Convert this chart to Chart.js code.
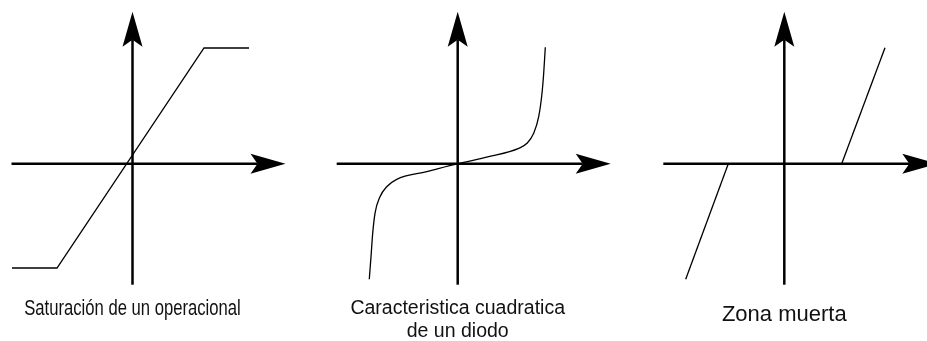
<!DOCTYPE html>
<html>
<head>
<meta charset="utf-8">
<script src="https://cdn.jsdelivr.net/npm/chart.js@4.4.1/dist/chart.umd.min.js"></script>
<style>
  html, body { margin: 0; padding: 0; background: #fff; }
  #wrap { position: relative; width: 927px; height: 341px; overflow: hidden; }
  .panel { position: absolute; top: 0; width: 309px; height: 341px; }
</style>
</head>
<body>
<div id="wrap">
  <div class="panel" style="left:0px"><canvas id="c1"></canvas></div>
  <div class="panel" style="left:309px"><canvas id="c2"></canvas></div>
  <div class="panel" style="left:618px"><canvas id="c3"></canvas></div>
</div>
<script>
// Axis extents (same for the three sketches), origin at 0
const axisX = [-121, 153];
const axisY = [-121, 152];

// Saturación de un operacional
const satX = [-120.5, -75.5, 71.5, 116.5];
const satY = [-104.3, -104.3, 115.7, 115.7];

// Característica del diodo
const diodeX = [-88.4, -86.7, -85.0, -82.7, -77.7, -71.0, -61.0, -31.0, 0, 31.0, 61.0, 69.3, 76.0, 81.0, 84.3, 86.0, 87.6];
const diodeY = [-115.6, -93.0, -69.6, -49.6, -33.0, -23.0, -15.6, -8.0, 0, 7.0, 15.4, 20.4, 30.4, 47.0, 70.4, 90.4, 116.4];

// Zona muerta (two branches)
const deadLeftX = [-98.6, -56.0];
const deadLeftY = [-115.6, 0];
const deadRightX = [57.4, 100.7];
const deadRightY = [0, 116.0];

const captions = [
    ['Saturación de un operacional'],
    ['Caracteristica cuadratica', 'de un diodo'],
    ['Zona muerta']
];

// where the origin sits inside each 309x341 canvas
const PANEL_W = 309, PANEL_H = 341;
const origins = [[132.5, 163.7], [148.7, 163.7], [166.3, 163.7]];
const captionStyle = [
    { size: 22.5, squeeze: 0.74, baselines: [151.6] },
    { size: 19.5, squeeze: 1, baselines: [149.8, 172.8] },
    { size: 22, squeeze: 1, baselines: [156.8] }
];

const toPoints = (xs, ys) => xs.map((x, i) => ({ x: x, y: ys[i] }));

function drawArrow(ctx, x0, y0, x1, y1) {
    const len = Math.hypot(x1 - x0, y1 - y0);
    const dx = (x1 - x0) / len, dy = (y1 - y0) / len;
    const nx = -dy, ny = dx;
    const head = 35, half = 10, notch = 28;
    ctx.beginPath();
    ctx.moveTo(x0, y0);
    ctx.lineTo(x1 - dx * notch, y1 - dy * notch);
    ctx.stroke();
    ctx.beginPath();
    ctx.moveTo(x1, y1);
    ctx.lineTo(x1 - dx * head + nx * half, y1 - dy * head + ny * half);
    ctx.lineTo(x1 - dx * notch, y1 - dy * notch);
    ctx.lineTo(x1 - dx * head - nx * half, y1 - dy * head - ny * half);
    ctx.closePath();
    ctx.fill();
}

const sketchPlugin = {
    id: 'sketch',
    beforeDatasetsDraw(chart) {
        const ctx = chart.ctx;
        const sx = chart.scales.x, sy = chart.scales.y;
        ctx.save();
        ctx.strokeStyle = '#000';
        ctx.fillStyle = '#000';
        ctx.lineWidth = 2.5;
        drawArrow(ctx, sx.getPixelForValue(axisX[0]), sy.getPixelForValue(0),
                  sx.getPixelForValue(axisX[1]), sy.getPixelForValue(0));
        drawArrow(ctx, sx.getPixelForValue(0), sy.getPixelForValue(axisY[0]),
                  sx.getPixelForValue(0), sy.getPixelForValue(axisY[1]));
        ctx.restore();
    },
    afterDraw(chart, args, opts) {
        const ctx = chart.ctx;
        const cx = chart.scales.x.getPixelForValue(0);
        const y0 = chart.scales.y.getPixelForValue(0);
        ctx.save();
        ctx.fillStyle = '#111';
        ctx.font = opts.size + 'px "Liberation Sans", Arial, sans-serif';
        ctx.textAlign = 'center';
        ctx.textBaseline = 'alphabetic';
        opts.lines.forEach((line, i) => {
            ctx.save();
            ctx.translate(cx, y0 + opts.baselines[i]);
            ctx.scale(opts.squeeze, 1);
            ctx.fillText(line, 0, 0);
            ctx.restore();
        });
        ctx.restore();
    }
};

function makeSketch(canvasId, idx, datasets) {
    const [ox, oy] = origins[idx];
    const st = captionStyle[idx];
    return new Chart(document.getElementById(canvasId), {
        type: 'scatter',
        data: { datasets: datasets.map(d => Object.assign({
            showLine: true,
            borderColor: '#000',
            borderWidth: 1.3,
            pointRadius: 0,
            fill: false,
            clip: false
        }, d)) },
        options: {
            responsive: false,
            animation: false,
            devicePixelRatio: 1,
            events: [],
            layout: { padding: 0 },
            plugins: {
                legend: { display: false },
                tooltip: { enabled: false },
                sketch: { lines: captions[idx], size: st.size, squeeze: st.squeeze, baselines: st.baselines }
            },
            scales: {
                x: { type: 'linear', display: false, min: -ox, max: PANEL_W - ox },
                y: { type: 'linear', display: false, min: -(PANEL_H - oy), max: oy }
            }
        },
        plugins: [sketchPlugin]
    });
}

['c1', 'c2', 'c3'].forEach(id => {
    const c = document.getElementById(id);
    c.width = PANEL_W; c.height = PANEL_H;
    c.style.width = PANEL_W + 'px'; c.style.height = PANEL_H + 'px';
});

makeSketch('c1', 0, [{ data: toPoints(satX, satY) }]);
makeSketch('c2', 1, [{ data: toPoints(diodeX, diodeY), cubicInterpolationMode: 'monotone' }]);
makeSketch('c3', 2, [
    { data: toPoints(deadLeftX, deadLeftY) },
    { data: toPoints(deadRightX, deadRightY) }
]);
</script>
</body>
</html>
